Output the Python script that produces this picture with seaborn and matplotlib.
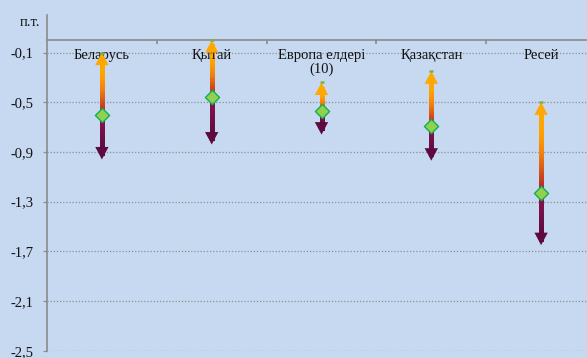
import numpy as np
import pandas as pd
import matplotlib
matplotlib.use("Agg")
import matplotlib.pyplot as plt
import seaborn as sns
from matplotlib.collections import LineCollection
from matplotlib.colors import LinearSegmentedColormap

# Data
categories = ["Беларусь", "Қытай", "Европа елдері\n(10)", "Қазақстан", "Ресей"]
central = [-0.60, -0.46, -0.57, -0.69, -1.23]
upper = [-0.10, 0.00, -0.34, -0.25, -0.50]
lower = [-0.96, -0.84, -0.76, -0.97, -1.65]
yticks = [-2.5, -2.1, -1.7, -1.3, -0.9, -0.5, -0.1]
unit_label = "п.т."

df = pd.DataFrame({"category": categories, "central": central,
                   "upper": upper, "lower": lower})
df["pos"] = np.arange(len(df))

bg = "#c6d9f0"
sns.set_theme(style="white")
plt.rcParams["font.family"] = ["Liberation Serif", "DejaVu Serif"]
plt.rcParams["font.size"] = 10.5

fig = plt.figure(figsize=(5.87, 3.58), dpi=100, facecolor=bg)
ax = fig.add_axes([47 / 587, 7.3 / 358, 549 / 587, (350.7 - 15.4) / 358])
ax.set_facecolor(bg)

up_cmap = LinearSegmentedColormap.from_list(
    "up", ["#9a1a3c", "#d04a1c", "#f08010", "#ffa200", "#ffa800"])
down_cmap = LinearSegmentedColormap.from_list(
    "down", ["#901448", "#74104a", "#5c0a40"])

def gradient_line(x, y0, y1, cmap):
    ys = np.linspace(y0, y1, 40)
    pts = np.array([np.full_like(ys, x), ys]).T.reshape(-1, 1, 2)
    segs = np.concatenate([pts[:-1], pts[1:]], axis=1)
    lc = LineCollection(segs, cmap=cmap, linewidths=2.4, zorder=3,
                        capstyle="projecting", antialiaseds=False)
    lc.set_array(np.linspace(0, 1, len(segs)))
    ax.add_collection(lc)

head = dict(arrowstyle="-|>,head_length=0.75,head_width=0.4",
            mutation_scale=12, shrinkA=0, shrinkB=0, lw=0)

for _, r in df.iterrows():
    x = r["pos"]
    gradient_line(x, r["central"], r["upper"] - 0.05, up_cmap)
    gradient_line(x, r["central"], r["lower"] + 0.05, down_cmap)
    ax.annotate("", xy=(x, r["upper"]), xytext=(x, r["upper"] - 0.08),
                arrowprops=dict(color="#ffa800", **head), zorder=4)
    ax.annotate("", xy=(x, r["lower"]), xytext=(x, r["lower"] + 0.08),
                arrowprops=dict(color="#5c0a40", **head), zorder=4)
    ax.plot([x], [r["upper"]], marker="_", ms=3.5, mew=1.8,
            color="#7cb342", zorder=5)

sns.scatterplot(data=df, x="pos", y="central", marker="D", s=52,
                color="#92d050", edgecolor="#10b050", linewidth=1.0,
                zorder=6, ax=ax, legend=False)

for _, r in df.iterrows():
    ax.annotate(r["category"], xy=(r["pos"], 0), xytext=(0, -6.0),
                textcoords="offset points", ha="center", va="top",
                fontsize=10.5, color="#111111", linespacing=1.1)

ax.set_xlim(-0.5, 4.5)
ax.set_ylim(-2.5, 0.2)
ax.set_yticks(yticks)
ax.set_yticklabels([f"{v:.1f}".replace(".", ",") for v in yticks],
                   fontsize=10.5, color="#111111")
ax.yaxis.grid(True, color="#8f8f8f", linestyle=(0, (1, 1.5)), linewidth=0.9)
ax.xaxis.grid(False)
ax.set_xlabel("")
ax.set_ylabel("")

for s in ["bottom", "right"]:
    ax.spines[s].set_visible(False)
ax.spines["left"].set_color("#8a8a8a")
ax.spines["left"].set_linewidth(1.2)
ax.spines["top"].set_position(("data", 0))
ax.spines["top"].set_color("#8a8a8a")
ax.spines["top"].set_linewidth(1.2)

ax.xaxis.set_ticks_position("top")
ax.set_xticks([0.5, 1.5, 2.5, 3.5])
ax.set_xticklabels([])
ax.tick_params(axis="x", which="both", direction="in", length=3,
               width=1.2, color="#8a8a8a", top=True, bottom=False)
ax.tick_params(axis="y", direction="out", length=3, width=0.9,
               color="#8f8f8f", pad=6.5, left=True)

fig.text(30 / 587, 1 - 22 / 358, unit_label, ha="center", va="center",
         fontsize=10.5, color="#111111")

fig.savefig("out.png", dpi=100, facecolor=bg)
